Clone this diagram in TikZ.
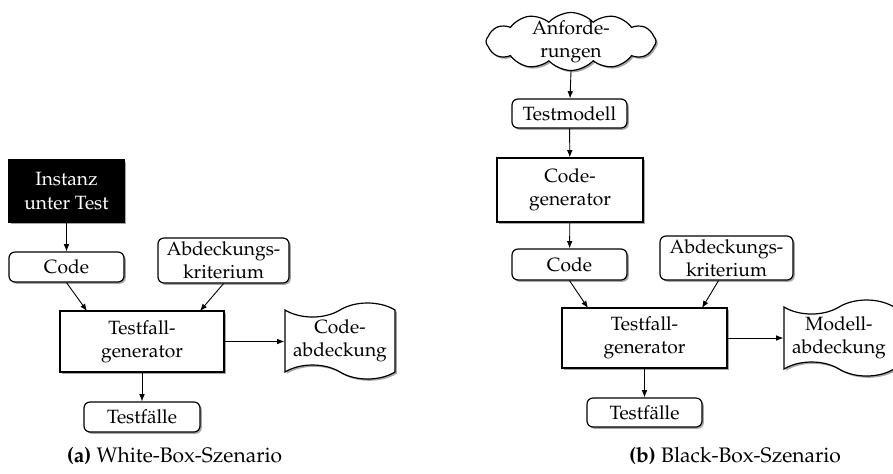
\documentclass[tikz,border=0pt]{standalone}
\usepackage[T1]{fontenc}
\usepackage{mathpazo}
\usetikzlibrary{arrows.meta,shapes.symbols,shadows,calc}

\tikzset{
  px/.style={x=0.5pt,y=-0.5pt},
  shd/.style={drop shadow={shadow xshift=0.9pt,shadow yshift=-0.9pt,fill=black,opacity=0.35}},
  base/.style={draw,line width=0.6pt,fill=white,align=center,inner sep=1pt,shd},
  rbox/.style={base,rounded corners=3pt},
  sbox/.style={base},
  dark/.style={base,fill=black,text=white},
  doc/.style={base,tape,tape bend height=7pt,tape bend top=in and out,tape bend bottom=out and in,inner sep=0pt},
  cld/.style={base,cloud,cloud puffs=12,cloud puff arc=95,cloud ignores aspect,inner sep=0pt},
  plain/.style={align=center,inner sep=0pt},
  arr/.style={-{Latex[length=3.6pt,width=2.8pt]},line width=0.45pt},
  captext/.style={inner sep=0pt,font=\fontsize{10.5}{12.5}\selectfont},
}

\begin{document}
\begin{tikzpicture}[px,font=\fontsize{9.6}{11.6}\selectfont]
\useasboundingbox (0,0) rectangle (893,473);

% (a) white-box scenario
\node[dark,minimum width=57.5pt,minimum height=31pt] (inst) at (66.5,191) {Instanz\\unter Test};
\node[rbox,minimum width=57.5pt,minimum height=15pt] (code1) at (66.5,267) {Code};
\node[rbox,minimum width=65.5pt,minimum height=22.5pt] (abd1) at (223.5,260.5) {Abdeckungs-\\kriterium};
\node[sbox,minimum width=82pt,minimum height=30.5pt] (tfg1) at (142,341.5) {Testfall-\\generator};
\node[rbox,minimum width=58pt,minimum height=15pt] (tf1) at (142,417) {Testf\"alle};
\node[doc,minimum width=55pt,minimum height=38pt] (cov1) at (340,341) {Code-\\abdeckung};

\coordinate (in1a) at (87,311);
\coordinate (in1b) at (200,311);
\draw[arr] (inst) -- (code1);
\draw[arr] (code1.south) -- (in1a);
\draw[arr] (abd1.south) -- (in1b);
\draw[arr] (tfg1) -- (tf1);
\draw[arr] (tfg1.east) -- (cov1.west |- tfg1.east);

\node[captext] (capa) at (174.5,456) {\textbf{(a)} White-Box-Szenario};

% (b) black-box scenario
\node[cld,minimum width=85pt,minimum height=29pt] (req) at (571,41.5) {};
\node[plain] (reqtext) at (req.center) {Anforde-\\rungen};
\node[rbox,minimum width=57.5pt,minimum height=14.5pt] (tm) at (569.5,113.5) {Testmodell};
\node[sbox,minimum width=73pt,minimum height=32pt] (cg) at (570,190) {Code-\\generator};
\node[rbox,minimum width=57.5pt,minimum height=15.5pt] (code2) at (569.5,264.5) {Code};
\node[rbox,minimum width=66.5pt,minimum height=22pt] (abd2) at (726.5,258) {Abdeckungs-\\kriterium};
\node[sbox,minimum width=82.5pt,minimum height=30pt] (tfg2) at (644.5,338) {Testfall-\\generator};
\node[rbox,minimum width=57.5pt,minimum height=14.5pt] (tf2) at (644.5,412.5) {Testf\"alle};
\node[doc,minimum width=55pt,minimum height=38pt] (cov2) at (839,338) {Modell-\\abdeckung};

\coordinate (in2a) at (588,308);
\coordinate (in2b) at (702,308);
\draw[arr] (req.south) -- (tm);
\draw[arr] (tm) -- (cg);
\draw[arr] (cg) -- (code2);
\draw[arr] (code2.south) -- (in2a);
\draw[arr] ([xshift=-4pt]abd2.south) -- (in2b);
\draw[arr] (tfg2) -- (tf2);
\draw[arr] (tfg2.east) -- (cov2.west |- tfg2.east);

\node[captext] (capb) at (735,456) {\textbf{(b)} Black-Box-Szenario};
\end{tikzpicture}
\end{document}
